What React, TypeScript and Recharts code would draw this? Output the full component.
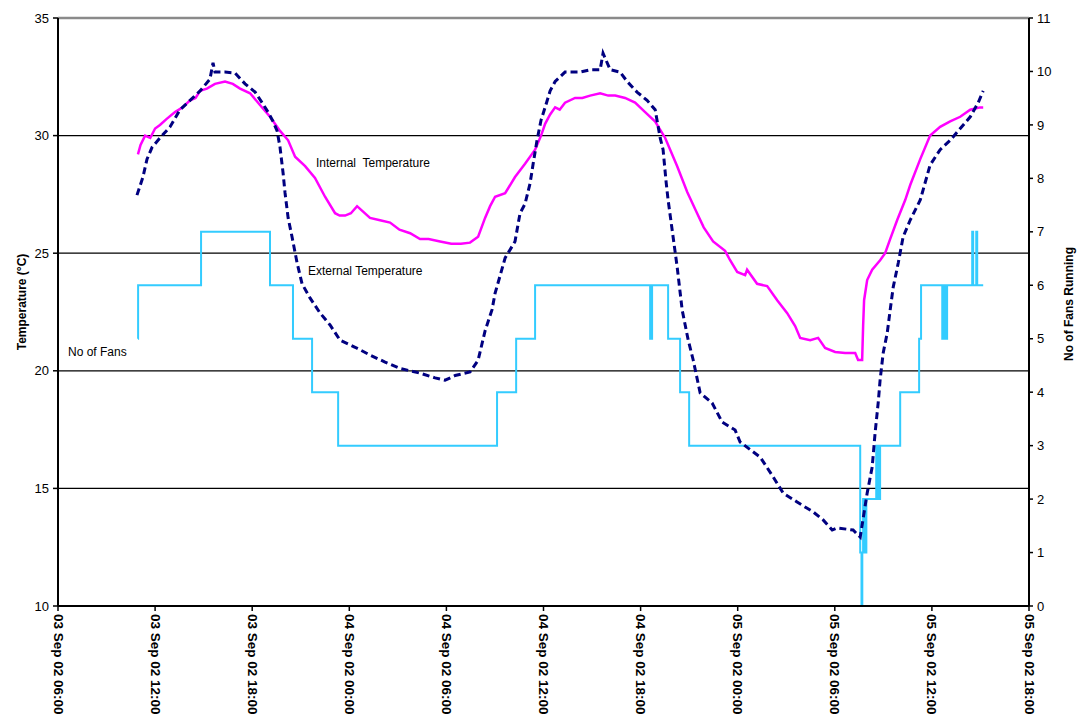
import React from "react";
import { LineChart, Line, XAxis, YAxis, CartesianGrid, ReferenceLine } from "recharts";

// hours since 03 Sep 02 06:00
const xTickHours = [0, 6, 12, 18, 24, 30, 36, 42, 48, 54, 60];
const xTickLabels = [
  "03 Sep 02 06:00", "03 Sep 02 12:00", "03 Sep 02 18:00", "04 Sep 02 00:00",
  "04 Sep 02 06:00", "04 Sep 02 12:00", "04 Sep 02 18:00", "05 Sep 02 00:00",
  "05 Sep 02 06:00", "05 Sep 02 12:00", "05 Sep 02 18:00",
];
const tempTicks = [10, 15, 20, 25, 30, 35];
const fanTicks = [0, 1, 2, 3, 4, 5, 6, 7, 8, 9, 10, 11];

const internalHours = [
  4.94, 5.1, 5.38, 5.7, 6.0, 6.3, 6.7, 7.23, 7.7, 8.16, 8.5, 8.78, 9.2, 9.7, 10.32, 10.8, 11.25, 11.87,
  12.48, 13.1, 13.72, 14.22, 14.65, 15.27, 15.88, 16.5, 17.12, 17.4, 17.74, 18.1, 18.48, 18.8, 19.28,
  19.9, 20.52, 21.1, 21.76, 22.37, 22.9, 23.61, 24.3, 24.9, 25.46, 25.96, 26.39, 26.7, 27.01, 27.63,
  28.24, 28.86, 29.48, 29.85, 30.1, 30.41, 30.72, 31.0, 31.33, 31.95, 32.4, 32.88, 33.5, 34.0, 34.43,
  35.04, 35.66, 36.28, 36.9, 37.52, 38.26, 38.88, 39.49, 39.9, 40.48, 41.22, 41.53, 41.97, 42.46,
  42.58, 43.2, 43.82, 44.44, 45.06, 45.55, 45.86, 46.48, 46.97, 47.4, 48.02, 48.64, 49.26, 49.44,
  49.69, 49.75, 49.81, 50.0, 50.31, 50.8, 51.11, 51.42, 51.85, 52.35, 52.66, 53.28, 53.89, 54.51,
  55.13, 55.75, 56.37, 56.98, 57.17,
];
const internalTemps = [
  29.2, 29.6, 30.0, 29.9, 30.3, 30.45, 30.7, 31.0, 31.2, 31.5, 31.6, 31.9, 32.0, 32.2, 32.3, 32.2, 32.0, 31.8,
  31.3, 30.8, 30.2, 29.8, 29.1, 28.7, 28.2, 27.4, 26.7, 26.6, 26.6, 26.7, 27.0, 26.8, 26.5,
  26.4, 26.3, 26.0, 25.85, 25.6, 25.6, 25.5, 25.4, 25.4, 25.45, 25.7, 26.5, 27.0, 27.4, 27.55,
  28.24, 28.8, 29.4, 30.0, 30.5, 30.9, 31.2, 31.1, 31.4, 31.6, 31.6, 31.7, 31.8, 31.7, 31.7,
  31.6, 31.4, 31.0, 30.6, 29.9, 28.7, 27.6, 26.7, 26.1, 25.5, 25.1, 24.7, 24.2, 24.07,
  24.3, 23.7, 23.6, 23.0, 22.45, 21.9, 21.4, 21.3, 21.4, 20.97, 20.8, 20.76, 20.76, 20.46,
  20.46, 21.9, 23.0, 23.86, 24.3, 24.7, 25.0, 25.6, 26.4, 27.26, 27.9, 29.0, 30.0, 30.37,
  30.6, 30.8, 31.1, 31.2, 31.2,
];

const externalHours = [
  4.88, 5.25, 5.5, 5.81, 6.3, 6.92, 7.54, 8.16, 8.78, 9.39, 9.58, 9.7, 10.32, 10.94, 11.56, 12.18,
  12.61, 12.98, 13.29, 13.54, 13.72, 13.91, 14.03, 14.22, 14.46, 14.77, 15.08, 15.57, 16.19, 16.81,
  17.43, 18.36, 19.28, 20.21, 21.14, 22.37, 23.3, 23.92, 24.54, 25.46, 25.96, 26.39, 26.82, 27.01,
  27.63, 28.24, 28.55, 28.86, 29.17, 29.36, 29.6, 29.85, 30.1, 30.41, 30.72, 31.33, 32.26, 32.88,
  33.5, 33.68, 34.12, 34.73, 35.17, 35.78, 36.4, 36.9, 37.21, 37.39, 37.58, 37.7, 38.26, 38.57,
  38.94, 39.25, 39.68, 40.42, 41.04, 41.84, 42.15, 43.39, 44.19, 44.81, 45.67, 46.66, 47.28, 47.84,
  48.15, 49.13, 49.57, 50.0, 50.31, 50.49, 50.68, 50.8, 50.99, 51.24, 51.42, 51.61, 51.92, 52.22,
  52.66, 53.28, 53.89, 54.51, 55.13, 55.75, 56.37, 56.86, 57.17,
];
const externalTemps = [
  27.47, 28.24, 29.0, 29.5, 29.9, 30.37, 31.1, 31.5, 31.9, 32.4, 33.1, 32.7, 32.7, 32.66, 32.2, 31.85,
  31.4, 31.0, 30.6, 30.2, 29.5, 28.4, 27.56, 26.5, 25.7, 24.6, 23.7, 23.1, 22.46, 21.95,
  21.3, 21.0, 20.67, 20.37, 20.1, 19.9, 19.7, 19.6, 19.8, 19.95, 20.45, 21.7, 22.6, 23.3,
  24.8, 25.5, 26.7, 27.1, 27.97, 28.8, 29.8, 30.66, 31.2, 31.9, 32.3, 32.7, 32.7, 32.8,
  32.8, 33.5, 32.8, 32.7, 32.3, 31.85, 31.5, 31.1, 29.9, 29.4, 28.0, 27.26, 24.41, 22.58,
  21.31, 20.46, 19.06, 18.63, 17.82, 17.48, 16.97, 16.33, 15.49, 14.8, 14.42, 14.0, 13.66, 13.23,
  13.32, 13.23, 12.93, 14.8, 15.91, 17.36, 18.63, 19.61, 20.76, 21.61, 22.58, 23.56, 24.58, 25.69,
  26.41, 27.26, 28.75, 29.4, 29.8, 30.3, 30.8, 31.4, 31.9,
];

const fanHours = [
  4.94, 4.95, 8.84, 13.1, 14.52, 15.7, 17.31, 27.13, 28.31, 29.48, 36.59, 36.71, 37.7, 38.44, 39.0,
  49.57, 49.65, 49.7, 49.75, 49.8, 49.85, 49.9, 49.95, 50.56, 50.62, 50.68, 50.74, 50.8, 52.04,
  53.21, 53.33, 54.64, 54.7, 54.76, 54.82, 54.88, 54.94, 56.49, 56.55, 56.74, 56.8, 57.17,
];
const fanCounts = [
  5, 6, 7, 6, 5, 4, 3, 4, 5, 6, 5, 6, 5, 4, 3,
  1, 0, 1, 2, 1, 2, 1, 2, 3, 2, 3, 2, 3, 4,
  5, 6, 5, 6, 5, 6, 5, 6, 7, 6, 7, 6, 6,
];

const internalData = internalHours.map((t, i) => ({ t, v: internalTemps[i] }));
const externalData = externalHours.map((t, i) => ({ t, v: externalTemps[i] }));
const fanData = fanHours.map((t, i) => ({ t, v: fanCounts[i] }));

const FONT = "Arial, 'Liberation Sans', sans-serif";

const XTick = (props: any) => {
  const { x, y, payload } = props;
  const idx = xTickHours.indexOf(payload.value);
  const label = idx >= 0 ? xTickLabels[idx] : "";
  return (
    <text
      x={x}
      y={y}
      transform={`rotate(90, ${x}, ${y})`}
      dx={1}
      dy={4.5}
      textAnchor="start"
      fontSize={13.5}
      fontWeight="bold"
      fontFamily={FONT}
      fill="#000"
    >
      {label}
    </text>
  );
};

const textStyle: React.CSSProperties = {
  position: "absolute",
  fontFamily: FONT,
  fontSize: 12,
  color: "#000",
  whiteSpace: "nowrap",
  lineHeight: "14px",
};

export default function App() {
  return (
    <div style={{ position: "absolute", left: 0, top: 0, width: 1079, height: 718, background: "#fff", overflow: "hidden" }}>
      <LineChart width={1079} height={718} margin={{ top: 18, right: 0, left: 0, bottom: 0 }}>
        <CartesianGrid horizontal={true} vertical={false} stroke="#000" strokeWidth={1.2} yAxisId="left" />
        <ReferenceLine yAxisId="left" y={35} stroke="#8a8a8a" strokeWidth={2.5} />
        <XAxis
          dataKey="t"
          type="number"
          domain={[0, 60]}
          ticks={xTickHours}
          interval={0}
          allowDataOverflow
          height={112}
          tick={<XTick />}
          tickSize={5}
          stroke="#000"
          axisLine={{ stroke: "#000", strokeWidth: 2 }}
          tickLine={{ stroke: "#000", strokeWidth: 1.5 }}
        />
        <YAxis
          yAxisId="left"
          domain={[10, 35]}
          ticks={tempTicks}
          interval={0}
          width={58}
          tickSize={5}
          tickMargin={4}
          tick={{ fontSize: 13, fill: "#000", fontFamily: FONT }}
          axisLine={{ stroke: "#000", strokeWidth: 2 }}
          tickLine={{ stroke: "#000", strokeWidth: 1.5 }}
          allowDataOverflow
        />
        <YAxis
          yAxisId="right"
          orientation="right"
          domain={[0, 11]}
          ticks={fanTicks}
          interval={0}
          width={50}
          tickSize={4}
          tickMargin={4}
          tick={{ fontSize: 13, fill: "#000", fontFamily: FONT }}
          axisLine={{ stroke: "#000", strokeWidth: 2 }}
          tickLine={{ stroke: "#000", strokeWidth: 1.5 }}
          allowDataOverflow
        />
        <Line
          yAxisId="right"
          data={fanData}
          dataKey="v"
          type="stepAfter"
          stroke="#33CCFF"
          strokeWidth={2}
          dot={false}
          isAnimationActive={false}
        />
        <Line
          yAxisId="left"
          data={internalData}
          dataKey="v"
          type="linear"
          stroke="#FF00FF"
          strokeWidth={2.5}
          dot={false}
          isAnimationActive={false}
        />
        <Line
          yAxisId="left"
          data={externalData}
          dataKey="v"
          type="linear"
          stroke="#000080"
          strokeWidth={3}
          strokeDasharray="7 4"
          dot={false}
          isAnimationActive={false}
        />
      </LineChart>
      <div style={{ ...textStyle, left: 316, top: 156 }}>Internal&nbsp; Temperature</div>
      <div style={{ ...textStyle, left: 308, top: 264 }}>External Temperature</div>
      <div style={{ ...textStyle, left: 68, top: 345 }}>No of Fans</div>
      <div
        style={{
          ...textStyle,
          fontSize: 12,
          fontWeight: "bold",
          left: 22,
          top: 302,
          transform: "translate(-50%, -50%) rotate(-90deg)",
        }}
      >
        Temperature (°C)
      </div>
      <div
        style={{
          ...textStyle,
          fontSize: 12,
          fontWeight: "bold",
          left: 1069,
          top: 304,
          transform: "translate(-50%, -50%) rotate(-90deg)",
        }}
      >
        No of Fans Running
      </div>
    </div>
  );
}
